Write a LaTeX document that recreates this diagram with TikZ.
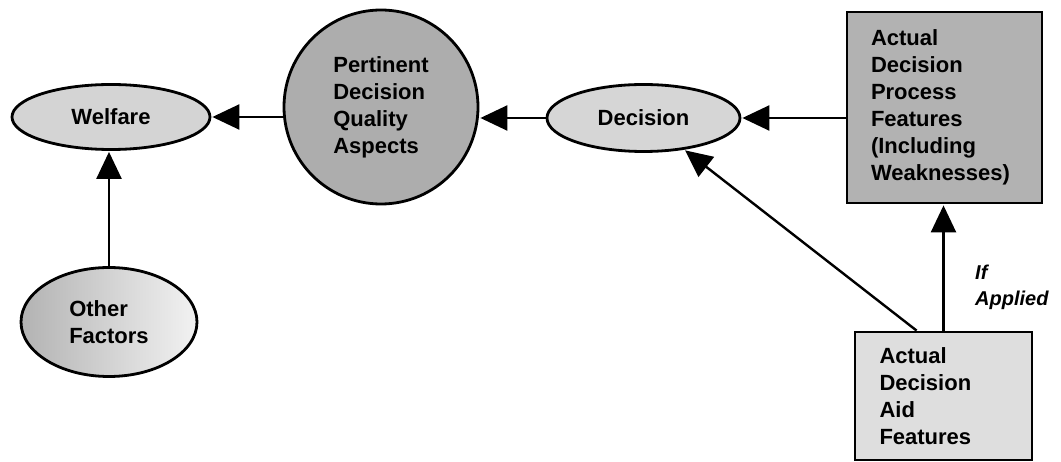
\documentclass[tikz,border=0pt]{standalone}
\usepackage{fontspec}
\setmainfont{Liberation Sans}
\usetikzlibrary{arrows.meta,shapes.geometric,calc}
\begin{document}
\begin{tikzpicture}[x=1pt,y=-1pt,
  lbl/.style={font=\fontsize{22}{27}\selectfont\bfseries, align=left},
  shapebox/.style={draw, line width=2.8pt, lbl},
  ell/.style={shapebox, ellipse, inner sep=0pt},
  conn/.style={line width=2.4pt, shorten >=1pt, -{Triangle[length=27pt,width=25pt]}}
]
\useasboundingbox (0,0) rectangle (1061,462);
\node[ell, fill=black!17, minimum width=198pt, minimum height=65pt] (wel) at (111,117) {Welfare};
\node[ell, circle, fill=black!32, minimum size=194pt] (pda) at (381,107) {Pertinent\\Decision\\Quality\\Aspects};
\node[ell, fill=black!16, minimum width=193pt, minimum height=67pt] (dec) at (643.5,118) {Decision};
\node[ell, left color=black!30, middle color=black!5, right color=black!5, minimum width=176pt, minimum height=109pt] (oth) at (109,322) {Other\\Factors};
\node[shapebox, fill=black!30, minimum height=191pt, text width=147pt, inner xsep=24pt, inner ysep=0pt] (proc) at (944.5,107.5) {Actual\\Decision\\Process\\Features\\(Including\\Weaknesses)};
\node[shapebox, fill=black!13, minimum height=128pt, text width=128pt, inner xsep=24.5pt, inner ysep=0pt] (aid) at (943.5,396) {Actual\\Decision\\Aid\\Features};
\node[font=\fontsize{20}{26}\selectfont\bfseries\itshape, align=left, anchor=north west, inner sep=0pt] (ifap) at (975,265) {If\\Applied};
\coordinate (aidtop) at ($(aid.north west)+(63,0)$);
\draw[conn] (proc.west |- dec.east) -- (dec.east);
\draw[conn] (dec.west) -- (pda.east |- dec.west);
\draw[conn] (pda.west |- wel.east) -- (wel.east);
\draw[conn] (oth.north) -- (wel.south -| oth.north);
\draw[conn] (aidtop) -- (dec);
\draw[conn] (aid.north) -- (aid.north |- proc.south);
\end{tikzpicture}
\end{document}
